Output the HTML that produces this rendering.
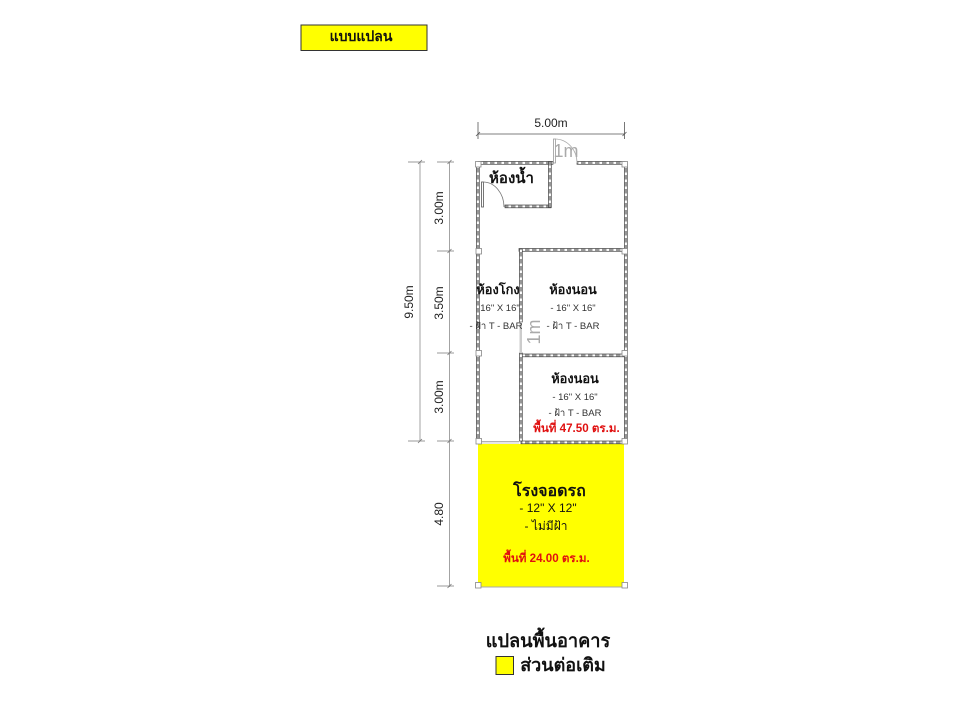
<!DOCTYPE html>
<html>
<head>
<meta charset="utf-8">
<style>
html,body{margin:0;padding:0;background:#fff;width:960px;height:720px;overflow:hidden}
svg{display:block}
text{font-family:"Liberation Sans","Noto Sans CJK SC","Noto Sans CJK JP",sans-serif;text-anchor:middle}
.b{font-weight:700}
.dim{font-size:12px;fill:#222}
.sm{font-size:9.5px;fill:#333}
.th{font-size:12.8px;font-weight:700;fill:#111}
.red{font-size:11.6px;font-weight:700;fill:#e01010}
</style>
</head>
<body>
<svg width="960" height="720" viewBox="0 0 960 720" xmlns="http://www.w3.org/2000/svg">
<defs>
<pattern id="h" width="7" height="7" patternUnits="userSpaceOnUse">
<rect width="7" height="7" fill="#fff"/>
<rect x="0" y="0" width="4.5" height="7" fill="#999"/>
</pattern>
<pattern id="v" width="7" height="7" patternUnits="userSpaceOnUse">
<rect width="7" height="7" fill="#fff"/>
<rect x="0" y="0" width="7" height="4.5" fill="#999"/>
</pattern>
</defs>

<!-- title box -->
<rect x="301" y="25" width="126" height="25.5" fill="#ffff00" stroke="#333" stroke-width="1"/>
<text x="361" y="41" class="b" font-size="14" fill="#111">แบบแปลน</text>

<!-- yellow garage -->
<rect x="478" y="444" width="146" height="143" fill="#ffff00"/>
<line x1="478" y1="587" x2="624" y2="587" stroke="#aaa" stroke-width="1"/>

<!-- dimensions -->
<g stroke="#555" stroke-width="0.8" fill="none">
<line x1="478" y1="134" x2="625" y2="134"/>
<line x1="478" y1="122" x2="478" y2="139"/>
<line x1="624.5" y1="122" x2="624.5" y2="139"/>
<path d="M476 136l4-4M622.5 136l4-4"/>
</g>
<g stroke="#999" stroke-width="0.9" fill="none">
<line x1="420" y1="162" x2="420" y2="441"/>
<line x1="449.5" y1="162" x2="449.5" y2="587"/>
</g>
<g stroke="#777" stroke-width="0.8" fill="none">
<line x1="408" y1="162" x2="425" y2="162"/>
<line x1="408" y1="441" x2="425" y2="441"/>
<line x1="437" y1="162" x2="454" y2="162"/>
<line x1="437" y1="251" x2="454" y2="251"/>
<line x1="437" y1="353" x2="454" y2="353"/>
<line x1="437" y1="441" x2="454" y2="441"/>
<line x1="437" y1="586" x2="454" y2="586"/>
<path d="M418 164l4-4M418 443l4-4M447.5 164l4-4M447.5 253l4-4M447.5 355l4-4M447.5 443l4-4M447.5 588l4-4"/>
</g>
<text x="551" y="127" class="dim">5.00m</text>
<text transform="translate(443,208) rotate(-90)" class="dim">3.00m</text>
<text transform="translate(443,303) rotate(-90)" class="dim">3.50m</text>
<text transform="translate(443,397) rotate(-90)" class="dim">3.00m</text>
<text transform="translate(413,302) rotate(-90)" class="dim">9.50m</text>
<text transform="translate(443,514) rotate(-90)" class="dim">4.80</text>

<!-- walls -->
<g stroke="#444" stroke-width="0.7">
<rect x="478" y="161.5" width="75" height="2.8" fill="url(#h)"/>
<rect x="577" y="161.5" width="48" height="2.8" fill="url(#h)"/>
<rect x="505" y="205" width="46" height="2.8" fill="url(#h)"/>
<rect x="519" y="248.5" width="106" height="2.8" fill="url(#h)"/>
<rect x="520" y="354" width="105" height="2.8" fill="url(#h)"/>
<rect x="521" y="441" width="103" height="2.8" fill="url(#h)"/>
<rect x="476.5" y="164" width="2.8" height="277" fill="url(#v)"/>
<rect x="624.5" y="164" width="2.8" height="277" fill="url(#v)"/>
<rect x="548.5" y="161.5" width="2.8" height="46" fill="url(#v)"/>
<rect x="519.5" y="249" width="2.8" height="73" fill="url(#v)"/>
<rect x="519.5" y="353" width="2.8" height="88" fill="url(#v)"/>
</g>

<!-- doors -->
<g stroke="#555" stroke-width="0.8" fill="#fff">
<rect x="481.5" y="182" width="2" height="25"/>
<rect x="553.5" y="139" width="2" height="24" stroke="#999"/>
</g>
<g stroke="#777" stroke-width="0.8" fill="none">
<path d="M483 182 A21 25 0 0 1 504 207"/>
<path d="M555 139 A22 24 0 0 1 577 163" stroke="#aaa"/>
<line x1="480" y1="441.5" x2="519" y2="441.5" stroke="#999"/>
<line x1="480" y1="443" x2="519" y2="443" stroke="#bbb"/>
</g>
<rect x="519.5" y="322" width="2.5" height="31" fill="#ccc"/>

<!-- columns -->
<g fill="#fff" stroke="#888" stroke-width="0.8">
<rect x="475.5" y="161.5" width="5.5" height="5.5"/>
<rect x="622" y="161.5" width="5.5" height="5.5"/>
<rect x="476" y="248.5" width="5.5" height="5.5"/>
<rect x="622" y="248.5" width="5.5" height="5.5"/>
<rect x="476" y="350.5" width="5.5" height="5.5"/>
<rect x="622" y="350.5" width="5.5" height="5.5"/>
<rect x="476" y="438.5" width="5.5" height="5.5"/>
<rect x="622" y="438.5" width="5.5" height="5.5"/>
<rect x="475.5" y="582.5" width="5.5" height="5.5"/>
<rect x="622" y="582.5" width="5.5" height="5.5"/>
</g>

<!-- door labels -->
<text x="566" y="157" font-size="18" fill="#aaa">1m</text>
<text transform="translate(540,332) rotate(-90)" font-size="18" fill="#aaa">1m</text>

<!-- room labels -->
<text x="511.5" y="183" class="b" font-size="15" fill="#111">ห้องน้ำ</text>

<text x="498" y="294" class="th">ห้องโกง</text>
<text x="500" y="311" class="sm">16" X 16"</text>
<text x="496" y="329" class="sm">- ฝ้า T - BAR</text>

<text x="573" y="294" class="th">ห้องนอน</text>
<text x="573" y="311" class="sm">- 16" X 16"</text>
<text x="573" y="329" class="sm">- ฝ้า T - BAR</text>

<text x="575" y="383" class="th">ห้องนอน</text>
<text x="575" y="400" class="sm">- 16" X 16"</text>
<text x="575" y="416" class="sm">- ฝ้า T - BAR</text>
<text x="576.5" y="432" class="red">พื้นที่ 47.50 ตร.ม.</text>

<!-- garage labels -->
<text x="549.5" y="496" class="b" font-size="16" fill="#111">โรงจอดรถ</text>
<text x="548" y="512" font-size="12" fill="#111">- 12" X 12"</text>
<text x="546" y="530" font-size="12" fill="#111">- ไม่มีฝ้า</text>
<text x="546.5" y="562" class="red">พื้นที่ 24.00 ตร.ม.</text>

<!-- legend -->
<text x="548" y="647" class="b" font-size="18.2" fill="#111">แปลนพื้นอาคาร</text>
<rect x="496" y="656.5" width="17.5" height="18" fill="#ffff00" stroke="#333" stroke-width="1"/>
<text x="563" y="671" class="b" font-size="18" fill="#111">ส่วนต่อเติม</text>
</svg>
</body>
</html>
